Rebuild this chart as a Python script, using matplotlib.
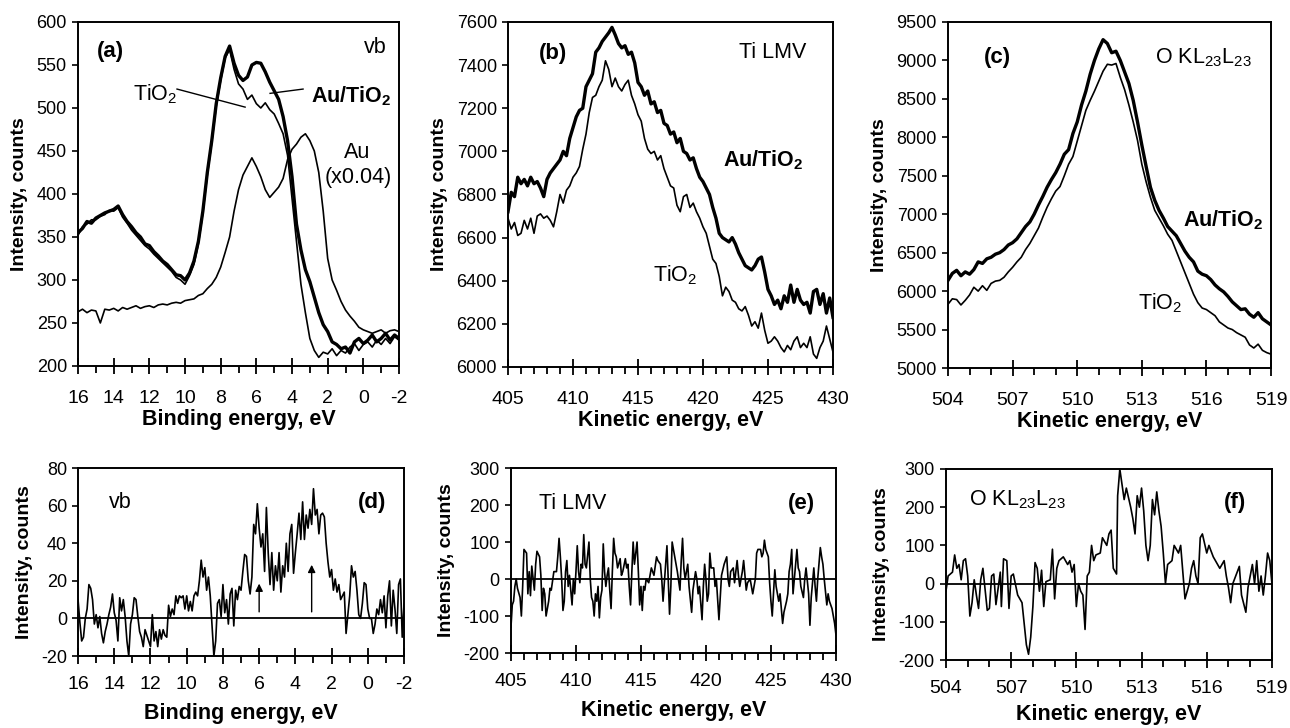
import numpy as np
import matplotlib
matplotlib.use("Agg")
import matplotlib.pyplot as plt
from matplotlib.ticker import MultipleLocator

plt.rcParams['font.family'] = ['Liberation Sans', 'DejaVu Sans']
plt.rcParams['mathtext.fontset'] = 'custom'
plt.rcParams['mathtext.rm'] = 'Liberation Sans'
plt.rcParams['mathtext.it'] = 'Liberation Sans:italic'
plt.rcParams['mathtext.bf'] = 'Liberation Sans:bold'
plt.rcParams['axes.unicode_minus'] = False

# ---- (a) valence band, binding energy grid 16 -> -2 eV, step 0.25
be_a = np.arange(16.0, -2.001, -0.25)
a_autio2 = [355, 360, 368, 366, 372, 375, 378, 380, 382, 386, 376, 368, 362, 355, 350, 342,
            340, 333, 328, 322, 318, 312, 306, 305, 300, 308, 322, 345, 380, 425, 462, 505,
            535, 560, 572, 552, 538, 532, 536, 550, 553, 552, 542, 530, 520, 510, 490, 462,
            420, 365, 335, 312, 298, 280, 262, 248, 240, 228, 225, 220, 222, 215, 228, 232,
            226, 230, 236, 228, 232, 238, 230, 236, 232]
a_tio2 = [352, 362, 365, 370, 370, 374, 376, 381, 380, 384, 373, 366, 358, 352, 346, 340,
          336, 330, 325, 320, 315, 310, 303, 300, 295, 305, 318, 342, 378, 422, 460, 502,
          532, 558, 568, 545, 528, 522, 510, 515, 505, 500, 506, 498, 493, 482, 470, 445,
          395, 345, 295, 262, 232, 218, 210, 216, 214, 220, 212, 218, 215, 222, 226, 218,
          225, 228, 222, 230, 225, 232, 226, 234, 230]
a_au = [263, 266, 262, 265, 264, 250, 266, 265, 267, 264, 268, 266, 268, 270, 267, 269,
        270, 268, 271, 272, 271, 273, 274, 273, 276, 277, 278, 282, 284, 290, 295, 303,
        315, 332, 350, 380, 405, 422, 432, 442, 432, 420, 405, 396, 402, 408, 418, 440,
        452, 458, 466, 470, 462, 450, 425, 380, 325, 300, 288, 275, 265, 258, 252, 245,
        242, 240, 238, 240, 242, 238, 241, 242, 240]

# ---- (b) Ti LMV, kinetic energy 405 -> 430 eV, step 0.25
ke_b = np.arange(405.0, 430.001, 0.25)
b_autio2 = [6720, 6810, 6790, 6880, 6850, 6870, 6840, 6880, 6850, 6860, 6830, 6790, 6870, 6900,
            6920, 6940, 6960, 7000, 6980, 7060, 7110, 7160, 7190, 7200, 7300, 7330, 7360, 7460,
            7480, 7510, 7530, 7550, 7575, 7540, 7500, 7480, 7490, 7450, 7460, 7410, 7320, 7300,
            7260, 7280, 7220, 7230, 7180, 7190, 7130, 7120, 7080, 7090, 7040, 7060, 7000, 6990,
            6960, 6970, 6920, 6880, 6860, 6830, 6800, 6740, 6690, 6620, 6600, 6590, 6580, 6600,
            6570, 6530, 6500, 6470, 6460, 6450, 6470, 6500, 6510, 6440, 6360, 6330, 6290, 6310,
            6270, 6330, 6300, 6380, 6300, 6360, 6310, 6290, 6300, 6250, 6350, 6360, 6290, 6340,
            6250, 6320, 6230]
b_tio2 = [6690, 6640, 6670, 6610, 6620, 6680, 6640, 6690, 6620, 6700, 6710, 6690, 6700, 6680,
          6650, 6720, 6800, 6760, 6820, 6840, 6880, 6900, 6930, 7010, 7080, 7180, 7250, 7260,
          7300, 7330, 7420, 7380, 7300, 7340, 7300, 7280, 7310, 7330, 7260, 7220, 7170, 7140,
          7060, 7010, 6990, 7000, 6960, 6980, 6920, 6880, 6840, 6830, 6750, 6720, 6790, 6800,
          6740, 6760, 6720, 6690, 6650, 6620, 6560, 6500, 6480, 6420, 6330, 6370, 6350, 6310,
          6300, 6270, 6260, 6280, 6240, 6190, 6210, 6180, 6250, 6170, 6110, 6120, 6140, 6120,
          6090, 6070, 6100, 6080, 6120, 6140, 6090, 6110, 6090, 6140, 6060, 6040, 6090, 6120,
          6190, 6130, 6070]

# ---- (c) O KL23L23, kinetic energy 504 -> 519 eV, step 0.2
ke_c = np.arange(504.0, 519.001, 0.2)
c_autio2 = [6140, 6230, 6270, 6200, 6250, 6220, 6280, 6380, 6360, 6420, 6440, 6480, 6500, 6540,
            6600, 6630, 6680, 6760, 6840, 6900, 7000, 7120, 7230, 7350, 7450, 7540, 7650, 7780,
            7840, 8050, 8200, 8420, 8600, 8820, 9000, 9150, 9270, 9220, 9100, 9120, 9000, 8850,
            8700, 8480, 8200, 7900, 7620, 7350, 7180, 7050, 6950, 6840, 6780, 6720, 6620, 6520,
            6440, 6380, 6260, 6220, 6200, 6150, 6080, 6030, 5990, 5930, 5860, 5810, 5760, 5770,
            5700, 5660, 5720, 5640, 5600, 5560]
c_tio2 = [5830, 5900, 5890, 5820, 5880, 5950, 6050, 6000, 6070, 6010, 6100, 6130, 6140, 6180,
          6250, 6310, 6380, 6440, 6540, 6620, 6720, 6820, 6960, 7090, 7200, 7300, 7360, 7500,
          7650, 7750, 7950, 8150, 8350, 8480, 8600, 8730, 8860, 8950, 8940, 8960, 8780, 8620,
          8420, 8200, 7960, 7650, 7420, 7220, 7050, 6950, 6850, 6740, 6660, 6520, 6380, 6240,
          6100, 5960, 5850, 5780, 5760, 5720, 5680, 5600, 5560, 5520, 5500, 5460, 5430, 5400,
          5300, 5260, 5310, 5230, 5200, 5180]

# ---- (d) vb difference spectrum
d_x = [16.0, 15.9, 15.8, 15.7, 15.6, 15.5, 15.4, 15.3, 15.2, 15.1, 15.0, 14.9, 14.8, 14.7, 14.6,
       14.5, 14.4, 14.3, 14.2, 14.1, 14.0, 13.9, 13.8, 13.7, 13.6, 13.5, 13.4, 13.3, 13.2, 13.1,
       13.0, 12.9, 12.8, 12.7, 12.6, 12.5, 12.4, 12.3, 12.2, 12.1, 12.0, 11.9, 11.8, 11.7, 11.6,
       11.5, 11.4, 11.3, 11.2, 11.1, 11.0, 10.9, 10.8, 10.7, 10.6, 10.5, 10.4, 10.3, 10.2, 10.1,
       10.0, 9.9, 9.8, 9.7, 9.6, 9.5, 9.4, 9.3, 9.2, 9.1, 9.0, 8.9, 8.8, 8.7, 8.6, 8.5, 8.4, 8.3,
       8.2, 8.1, 8.0, 7.9, 7.8, 7.7, 7.6, 7.5, 7.4, 7.3, 7.2, 7.1, 7.0, 6.9, 6.8, 6.7, 6.6, 6.5,
       6.4, 6.3, 6.2, 6.1, 6.0, 5.9, 5.8, 5.7, 5.6, 5.5, 5.4, 5.3, 5.2, 5.1, 5.0, 4.9, 4.8, 4.7,
       4.6, 4.5, 4.4, 4.3, 4.2, 4.1, 4.0, 3.9, 3.8, 3.7, 3.6, 3.5, 3.4, 3.3, 3.2, 3.1, 3.0, 2.9,
       2.8, 2.7, 2.6, 2.5, 2.4, 2.3, 2.2, 2.1, 2.0, 1.9, 1.8, 1.7, 1.6, 1.5, 1.4, 1.3, 1.2, 1.1,
       1.0, 0.9, 0.8, 0.7, 0.6, 0.5, 0.4, 0.3, 0.2, 0.1, 0.0, -0.1, -0.2, -0.3, -0.4, -0.5, -0.6,
       -0.7, -0.8, -0.9, -1.0, -1.1, -1.2, -1.3, -1.4, -1.5, -1.6, -1.7, -1.8, -1.9, -2.0]
d_y = [10, -2, -12, -10, 0, 5, 18, 16, 10, -3, 2, -5, 1, -8, -13,
       -7, -3, 2, 6, 13, 3, -1, -12, 11, 4, 10, 1, -12, -20, -3,
       2, 11, 10, 1, -7, -10, -15, -6, -9, -12, -15, 2, -12, -7, -15,
       -6, -11, -6, -9, -10, 7, 1, 5, 2, 12, 8, 12, 11, 12, 5,
       12, 4, 9, 4, 12, 14, 12, 20, 31, 22, 27, 15, 22, 12, -4, -20, -12, 8,
       10, 1, 18, 3, 10, -3, 13, 16, -4, 15, 10, 17, 15, 25, 34, 33, 20, 13,
       22, 50, 45, 61, 48, 38, 45, 25, 59, 35, 18, 35, 15, 28, 20, 35, 14, 28,
       22, 40, 25, 45, 50, 24, 35, 45, 56, 42, 62, 42, 55, 48, 58, 50, 69, 55,
       58, 45, 55, 56, 54, 40, 30, 22, 26, 15, 21, 14, 18, 10, 12, 14, -8, 2,
       12, 28, 22, 25, 15, 2, 0, 8, 19, 18, 5, 0, 0, -8, -3, 5, 2,
       10, 3, 12, -5, 12, 20, -4, 15, 5, -8, 18, 21, -10, 8]

# ---- (e) Ti LMV difference spectrum
e_x = [405.0, 405.1, 405.2, 405.3, 405.4, 405.5, 405.7, 405.8, 405.9, 406.0, 406.1, 406.2, 406.3,
       406.4, 406.5, 406.6, 406.8, 406.9, 407.0, 407.2, 407.3, 407.4, 407.5, 407.6, 407.7, 407.9,
       408.0, 408.1, 408.3, 408.5, 408.6, 408.7, 408.8, 408.9, 409.0, 409.1, 409.2, 409.3, 409.4,
       409.5, 409.6, 409.7, 409.8, 409.9, 410.0, 410.1, 410.2, 410.3, 410.4, 410.5, 410.6, 410.7,
       410.8, 411.0, 411.1, 411.2, 411.3, 411.4, 411.5, 411.6, 411.7, 411.8, 411.9, 412.0, 412.1,
       412.2, 412.3, 412.4, 412.5, 412.6, 412.7, 412.8, 412.9, 413.0, 413.1, 413.2, 413.4, 413.5,
       413.6, 413.8, 413.9, 414.0, 414.1, 414.2, 414.3, 414.4, 414.5, 414.7, 414.8, 414.9, 415.0,
       415.1, 415.2, 415.3, 415.4, 415.6, 415.7, 415.8, 416.0, 416.2, 416.3, 416.5, 416.6, 416.7,
       416.8, 417.0, 417.1, 417.2, 417.3, 417.4, 417.5, 417.7, 417.8, 418.0, 418.1, 418.2, 418.3,
       418.4, 418.5, 418.6, 418.7, 418.9, 419.0, 419.2, 419.3, 419.4, 419.5, 419.7, 419.8, 419.9,
       420.0, 420.1, 420.2, 420.3, 420.4, 420.6, 420.7, 420.8, 421.0, 421.1, 421.2, 421.4, 421.5,
       421.6, 421.7, 421.8, 421.9, 422.1, 422.2, 422.4, 422.5, 422.6, 422.8, 422.9, 423.0, 423.1,
       423.2, 423.4, 423.5, 423.6, 423.8, 423.9, 424.0, 424.2, 424.3, 424.4, 424.5, 424.6, 424.8,
       424.9, 425.0, 425.1, 425.2, 425.3, 425.4, 425.6, 425.7, 425.8, 425.9, 426.0, 426.2, 426.3,
       426.4, 426.5, 426.6, 426.7, 426.8, 427.0, 427.1, 427.2, 427.3, 427.5, 427.6, 427.7, 427.9,
       428.0, 428.1, 428.3, 428.4, 428.5, 428.6, 428.8, 428.9, 429.0, 429.1, 429.3, 429.4, 429.5,
       429.7, 429.8, 429.9, 430.0]
e_y = [-130, -70, -60, -20, 0, -25, -50, -100, -20, 80, 75, 70, -40,
       20, -45, 35, -30, 40, 75, 60, 10, -85, -25, -40, -100, -60,
       -25, -30, 20, 20, 60, 110, 60, 0, -85, -60, 20, 50, -20,
       10, -30, -70, 0, -40, 20, 90, 20, -10, 40, 30, 120, 40,
       30, 100, 0, -50, -60, -100, -40, -60, -20, -105, -50, -30, 95,
       20, -20, 10, 30, -30, -80, 20, 110, 70, 60, 30, 55, 10,
       20, 55, 30, 40, -20, -70, 20, 100, 40, 100, 20, -70, -20,
       -85, -20, -30, 0, -10, 10, 30, 10, 60, 50, 40, 0, -60,
       -10, 90, 0, -95, -20, 100, 80, 40, 20, -30, 50, 110, 30,
       0, 20, 40, -20, -90, -30, 20, 0, -40, -20, -110, -20, 40,
       0, -60, -40, 70, 30, 30, -20, 0, -110, -50, 10, 40, 50,
       60, 0, -20, 20, 30, -10, 50, 10, -20, 20, 50, 10, -30,
       -10, 0, -20, -40, 0, 70, 80, 80, 60, 70, 105, 80, 60,
       -10, -60, -100, -40, 25, -20, -60, -40, -80, -120, -90, -60, -40,
       20, 40, 80, -40, 0, 80, 30, 20, -20, -50, 0, 30, -40,
       -125, -50, 30, -20, -60, 0, 85, 60, 40, 0, -70, -40, -60,
       -80, -100, -120, -150]

# ---- (f) O KL23L23 difference spectrum
f_x = [504.0, 504.1, 504.3, 504.4, 504.5, 504.6, 504.7, 504.8, 504.9, 505.0, 505.1, 505.2, 505.3,
       505.4, 505.5, 505.6, 505.7, 505.9, 506.0, 506.1, 506.2, 506.3, 506.5, 506.55, 506.65, 506.8,
       506.9, 507.0, 507.1, 507.3, 507.4, 507.5, 507.7, 507.8, 507.9, 508.0, 508.1, 508.2, 508.3,
       508.4, 508.5, 508.6, 508.8, 508.9, 509.0, 509.1, 509.2, 509.4, 509.6, 509.7, 509.8, 509.9,
       510.0, 510.1, 510.2, 510.3, 510.4, 510.5, 510.6, 510.7, 510.8, 510.9, 511.1, 511.2, 511.4,
       511.5, 511.6, 511.7, 511.8, 511.85, 511.9, 512.0, 512.2, 512.3, 512.5, 512.6, 512.7, 512.8,
       512.9, 513.0, 513.1, 513.2, 513.3, 513.4, 513.5, 513.6, 513.7, 513.8, 513.9, 514.0, 514.1,
       514.2, 514.4, 514.5, 514.7, 514.8, 515.0, 515.2, 515.3, 515.4, 515.5, 515.6, 515.7, 515.8,
       516.0, 516.1, 516.3, 516.5, 516.6, 516.8, 516.9, 517.0, 517.1, 517.2, 517.4, 517.5, 517.6,
       517.8, 517.9, 518.1, 518.2, 518.3, 518.4, 518.5, 518.6, 518.7, 518.8, 518.9, 519.0]
f_y = [-20, 20, 30, 75, 40, 50, 10, 60, 65, 20, -85, -50, 10,
       -30, -65, 10, 40, -70, -65, 20, 25, -55, 30, -60, 65, 60,
       -65, 20, 25, -30, -40, -50, -160, -185, -140, -60, 55, 40, -20,
       35, -60, 5, 10, 90, -40, 40, 60, 70, 50, 60, 30, 50,
       -60, 0, -20, -30, -120, 20, 30, 100, 60, 75, 80, 120, 100,
       130, 140, 40, 30, 25, 230, 300, 220, 250, 200, 170, 130, 230,
       200, 250, 190, 100, 60, 100, 220, 180, 240, 190, 150, 80, 0,
       50, 60, 100, 80, 100, -40, 0, 40, 60, 20, 0, 120, 130,
       80, 100, 70, 50, 40, 60, 20, -10, -50, 0, 30, 45, -30,
       -75, -10, 50, 0, 60, -20, 20, -30, 20, 80, 60, 0]

TICK_X = 14
TICK_Y = 13
XLAB = 15.5
YLAB = 14
TXT = 15.5
LET = 16


def style(ax, xlim, ylim, xmaj, xmin, ymaj, xlabel, xpad=12, lpad=1):
    ax.set_xlim(*xlim)
    ax.set_ylim(*ylim)
    ax.xaxis.set_major_locator(MultipleLocator(xmaj))
    ax.xaxis.set_minor_locator(MultipleLocator(xmin))
    ax.yaxis.set_major_locator(MultipleLocator(ymaj))
    ax.tick_params(axis='x', which='major', direction='inout', length=11, width=1.3,
                   labelsize=TICK_X, pad=xpad)
    ax.tick_params(axis='x', which='minor', direction='out', length=5, width=1.3)
    ax.tick_params(axis='y', which='major', direction='out', length=4, width=1.2,
                   labelsize=TICK_Y, pad=4)
    for s in ax.spines.values():
        s.set_linewidth(1.4)
    ax.set_xlabel(xlabel, fontsize=XLAB, fontweight='bold', labelpad=lpad)
    ax.set_ylabel('Intensity, counts', fontsize=YLAB, fontweight='bold', labelpad=6)


def note(ax, x, y, s, bold=False, size=TXT):
    ax.text(x, y, s, transform=ax.transAxes, fontsize=size,
            fontweight='bold' if bold else 'normal', ha='center', va='center')


fig = plt.figure(figsize=(12.9, 7.28), dpi=100)

# top row
ax_a = fig.add_axes([0.0605, 0.4973, 0.2488, 0.4725])
ax_b = fig.add_axes([0.3938, 0.4959, 0.2519, 0.4739])
ax_c = fig.add_axes([0.7349, 0.4945, 0.2504, 0.4753])
# bottom row
ax_d = fig.add_axes([0.0605, 0.0989, 0.2527, 0.2582])
ax_e = fig.add_axes([0.3961, 0.1030, 0.2519, 0.2541])
ax_f = fig.add_axes([0.7333, 0.0934, 0.2527, 0.2624])

THICK = 2.4
THIN = 1.2

# (a)
ax_a.plot(be_a, a_au, color='k', lw=THIN)
ax_a.plot(be_a, a_tio2, color='k', lw=THIN)
ax_a.plot(be_a, a_autio2, color='k', lw=THICK)
style(ax_a, (16, -2), (200, 600), 2, 1, 50, 'Binding energy, eV')
note(ax_a, 0.10, 0.913, '(a)', bold=True, size=LET)
note(ax_a, 0.925, 0.927, 'vb')
note(ax_a, 0.24, 0.79, 'TiO$_2$')
note(ax_a, 0.85, 0.785, r'Au/TiO$_\mathbf{2}$', bold=True)
note(ax_a, 0.869, 0.622, 'Au')
note(ax_a, 0.872, 0.549, '(x0.04)')
ax_a.plot([10.45, 6.63], [522, 501], color='k', lw=1.0)
ax_a.plot([3.38, 5.23], [522, 517], color='k', lw=1.0)

# (b)
ax_b.plot(ke_b, b_tio2, color='k', lw=THIN)
ax_b.plot(ke_b, b_autio2, color='k', lw=THICK)
style(ax_b, (405, 430), (6000, 7600), 5, 1, 200, 'Kinetic energy, eV')
note(ax_b, 0.138, 0.91, '(b)', bold=True, size=LET)
note(ax_b, 0.815, 0.913, 'Ti LMV')
note(ax_b, 0.785, 0.60, r'Au/TiO$_\mathbf{2}$', bold=True)
note(ax_b, 0.514, 0.267, 'TiO$_2$')

# (c)
ax_c.plot(ke_c, c_tio2, color='k', lw=THIN)
ax_c.plot(ke_c, c_autio2, color='k', lw=THICK)
style(ax_c, (504, 519), (5000, 9500), 3, 1, 500, 'Kinetic energy, eV')
note(ax_c, 0.152, 0.896, '(c)', bold=True, size=LET)
note(ax_c, 0.789, 0.896, 'O KL$_{23}$L$_{23}$')
note(ax_c, 0.851, 0.428, r'Au/TiO$_\mathbf{2}$', bold=True)
note(ax_c, 0.656, 0.188, 'TiO$_2$')

# (d)
ax_d.axhline(0, color='k', lw=1.3)
ax_d.plot(d_x, d_y, color='k', lw=1.2)
style(ax_d, (16, -2), (-20, 80), 2, 1, 20, 'Binding energy, eV', xpad=9, lpad=7)
for xa, ya in [(6.0, 20), (3.1, 30)]:
    ax_d.annotate('', xy=(xa, ya), xytext=(xa, 2),
                  arrowprops=dict(arrowstyle='-|>', color='k', lw=1.0, mutation_scale=11))
note(ax_d, 0.129, 0.814, 'vb')
note(ax_d, 0.902, 0.814, '(d)', bold=True, size=LET)

# (e)
ax_e.axhline(0, color='k', lw=1.3)
ax_e.plot(e_x, e_y, color='k', lw=1.2)
style(ax_e, (405, 430), (-200, 300), 5, 1, 100, 'Kinetic energy, eV', xpad=9, lpad=7)
note(ax_e, 0.19, 0.81, 'Ti LMV')
note(ax_e, 0.895, 0.81, '(e)', bold=True, size=LET)

# (f)
ax_f.axhline(0, color='k', lw=1.3)
ax_f.plot(f_x, f_y, color='k', lw=1.2)
style(ax_f, (504, 519), (-200, 300), 3, 1, 100, 'Kinetic energy, eV', xpad=9, lpad=5)
note(ax_f, 0.218, 0.838, 'O KL$_{23}$L$_{23}$')
note(ax_f, 0.887, 0.827, '(f)', bold=True, size=LET)

fig.savefig('out.png', dpi=100)
